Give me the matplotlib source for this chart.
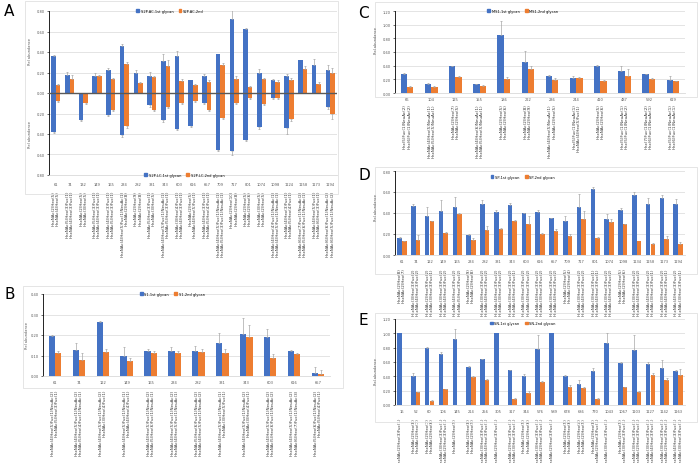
import matplotlib
matplotlib.use("Agg")
import matplotlib.pyplot as plt
import matplotlib.transforms as mtransforms
from matplotlib.patches import Rectangle, Patch
import numpy as np

# ---- data ----
# panel A (S2P, AC on top, LC mirrored below)
a_cats = ["61", "74", "132", "149", "165", "234", "282", "331", "343", "603", "616",
          "657", "709", "717", "801", "1074", "1098", "1124", "1158", "1173", "1194"]
a_ac1 = [0.36, 0.175, 0.0, 0.17, 0.225, 0.46, 0.20, 0.165, 0.31, 0.36, 0.125,
         0.165, 0.38, 0.72, 0.625, 0.20, 0.13, 0.165, 0.32, 0.275, 0.22]
a_ac1_err = [0.01, 0.03, 0.0, 0.03, 0.02, 0.02, 0.02, 0.04, 0.07, 0.05, 0.0,
             0.02, 0.0, 0.19, 0.01, 0.03, 0.01, 0.02, 0.0, 0.06, 0.05]
a_ac2 = [0.08, 0.14, 0.0, 0.165, 0.14, 0.28, 0.10, 0.155, 0.26, 0.12, 0.08,
         0.11, 0.27, 0.14, 0.055, 0.14, 0.105, 0.13, 0.235, 0.085, 0.195]
a_ac2_err = [0.01, 0.04, 0.0, 0.01, 0.01, 0.02, 0.01, 0.01, 0.06, 0.02, 0.01,
             0.02, 0.02, 0.03, 0.01, 0.01, 0.02, 0.02, 0.03, 0.02, 0.05]
a_lc1 = [0.38, 0.0, 0.26, 0.0, 0.21, 0.41, 0.0, 0.12, 0.26, 0.35, 0.32,
         0.10, 0.555, 0.565, 0.46, 0.335, 0.045, 0.34, 0.0, 0.0, 0.135]
a_lc1_err = [0.01, 0.0, 0.01, 0.0, 0.01, 0.02, 0.0, 0.02, 0.02, 0.01, 0.01,
             0.01, 0.01, 0.04, 0.01, 0.02, 0.01, 0.06, 0.0, 0.0, 0.02]
a_lc2 = [0.08, 0.0, 0.10, 0.0, 0.165, 0.32, 0.0, 0.17, 0.14, 0.10, 0.08,
         0.165, 0.24, 0.10, 0.05, 0.11, 0.045, 0.25, 0.0, 0.0, 0.205]
a_lc2_err = [0.01, 0.0, 0.01, 0.0, 0.01, 0.02, 0.0, 0.01, 0.01, 0.01, 0.01,
             0.01, 0.01, 0.01, 0.01, 0.01, 0.01, 0.02, 0.0, 0.0, 0.05]
a_gly = [
    ("HexNAc(2)Hex(5)", "HexNAc(4)Hex(5)"),
    ("HexNAc(5)Hex(3)Fuc(1)", "HexNAc(4)Hex(3)Fuc(1)"),
    ("HexNAc(2)Hex(5)", "HexNAc(3)Hex(5)"),
    ("HexNAc(5)Hex(3)Fuc(1)", "HexNAc(4)Hex(3)Fuc(1)"),
    ("HexNAc(4)Hex(3)Fuc(1)", "HexNAc(5)Hex(3)Fuc(1)"),
    ("HexNAc(4)Hex(5)Fuc(1)NeuAc(1)", "HexNAc(2)Hex(8)"),
    ("HexNAc(2)Hex(9)", "HexNAc(2)Hex(8)"),
    ("HexNAc(5)Hex(3)Fuc(1)", "HexNAc(3)Hex(5)"),
    ("HexNAc(4)Hex(5)Fuc(1)NeuAc(1)", "HexNAc(5)Hex(3)Fuc(1)"),
    ("HexNAc(3)Hex(4)Fuc(1)", "HexNAc(4)Hex(3)Fuc(1)"),
    ("HexNAc(2)Hex(5)", "HexNAc(4)Hex(5)Fuc(1)"),
    ("HexNAc(4)Hex(3)Fuc(1)", "HexNAc(5)Hex(4)Fuc(1)"),
    ("HexNAc(4)Hex(5)Fuc(1)NeuAc(1)", "HexNAc(5)Hex(3)Fuc(1)NeuAc(1)"),
    ("HexNAc(2)Hex(10)", "HexNAc(2)Hex(8)"),
    ("HexNAc(2)Hex(5)", "HexNAc(2)Hex(6)"),
    ("HexNAc(3)Hex(5)", "HexNAc(2)Hex(5)"),
    ("HexNAc(4)Hex(4)Fuc(1)NeuAc(1)", "HexNAc(4)Hex(5)Fuc(1)NeuAc(1)"),
    ("HexNAc(4)Hex(3)Fuc(1)", "HexNAc(5)Hex(4)Fuc(1)"),
    ("HexNAc(6)Hex(7)Fuc(1)NeuAc(2)", "HexNAc(5)Hex(6)Fuc(1)NeuAc(1)"),
    ("HexNAc(4)Hex(5)Fuc(1)", "HexNAc(6)Hex(3)Fuc(1)"),
    ("HexNAc(6)Hex(6)Fuc(1)NeuAc(2)", "HexNAc(6)Hex(5)Fuc(1)NeuAc(2)"),
]

# panel B (S1)
b_cats = ["61", "74", "122", "149", "165", "234", "282", "331", "343", "603", "616", "657"]
b_1st = [0.195, 0.125, 0.265, 0.10, 0.12, 0.12, 0.123, 0.163, 0.203, 0.19, 0.12, 0.016]
b_1st_err = [0.005, 0.035, 0.005, 0.04, 0.01, 0.02, 0.025, 0.045, 0.08, 0.04, 0.005, 0.03]
b_2nd = [0.11, 0.078, 0.118, 0.071, 0.112, 0.113, 0.118, 0.11, 0.19, 0.086, 0.108, 0.011]
b_2nd_err = [0.01, 0.035, 0.015, 0.015, 0.01, 0.01, 0.015, 0.02, 0.06, 0.02, 0.005, 0.02]
b_gly = [
    ("HexNAc(4)Hex(5)Fuc(1)NeuAc(2)", "HexNAc(5)Hex(3)Fuc(1)"),
    ("HexNAc(4)Hex(5)Fuc(1)NeuAc(2)", "HexNAc(5)Hex(4)Fuc(1)NeuAc(1)"),
    ("HexNAc(4)Hex(5)Fuc(1)NeuAc(2)", "HexNAc(3)Hex(4)Fuc(1)"),
    ("HexNAc(4)Hex(5)Fuc(1)NeuAc(1)", "HexNAc(4)Hex(4)Fuc(1)"),
    ("HexNAc(4)Hex(5)Fuc(1)NeuAc(2)", "HexNAc(5)Hex(6)Fuc(1)NeuAc(1)"),
    ("HexNAc(4)Hex(5)Fuc(1)NeuAc(2)", "HexNAc(4)Hex(5)Fuc(1)NeuAc(1)"),
    ("HexNAc(5)Hex(6)Fuc(1)NeuAc(2)", "HexNAc(4)Hex(5)Fuc(1)NeuAc(2)"),
    ("HexNAc(4)Hex(5)Fuc(1)NeuAc(1)", "HexNAc(3)Hex(5)Fuc(1)"),
    ("HexNAc(4)Hex(5)Fuc(1)NeuAc(2)", "HexNAc(3)Hex(4)Fuc(1)"),
    ("HexNAc(4)Hex(5)Fuc(1)NeuAc(2)", "HexNAc(5)Hex(6)Fuc(1)NeuAc(2)"),
    ("HexNAc(4)Hex(5)Fuc(1)NeuAc(2)", "HexNAc(6)Hex(7)Fuc(1)NeuAc(3)"),
    ("HexNAc(5)Hex(6)Fuc(1)NeuAc(2)", "HexNAc(5)Hex(4)Fuc(1)"),
]

# panel C (MS1)
c_cats = ["66", "104", "125", "155", "186", "222", "236", "244", "410", "487", "592", "619"]
c_1st = [0.28, 0.135, 0.39, 0.13, 0.85, 0.45, 0.255, 0.225, 0.40, 0.325, 0.275, 0.185]
c_1st_err = [0.01, 0.01, 0.005, 0.005, 0.21, 0.16, 0.005, 0.02, 0.01, 0.07, 0.01, 0.06]
c_2nd = [0.09, 0.09, 0.24, 0.105, 0.20, 0.35, 0.195, 0.22, 0.18, 0.25, 0.21, 0.17]
c_2nd_err = [0.01, 0.01, 0.005, 0.005, 0.03, 0.04, 0.02, 0.01, 0.01, 0.10, 0.01, 0.01]
c_gly = [
    ("Hex(5)Fuc(1)NeuAc(2)", "Hex(6)Fuc(1)NeuAc(2)"),
    ("HexNAc(4)Hex(5)NeuAc(1)", "HexNAc(5)Hex(5)NeuAc(1)"),
    ("HexNAc(2)Hex(7)", "HexNAc(2)Hex(5)"),
    ("HexNAc(4)Hex(6)NeuAc(1)", "HexNAc(5)Hex(5)NeuAc(1)"),
    ("HexNAc(2)Hex(5)", "HexNAc(2)Hex(6)"),
    ("HexNAc(2)Hex(8)", "HexNAc(2)Hex(9)"),
    ("HexNAc(4)Hex(5)NeuAc(1)", "HexNAc(2)Hex(5)"),
    ("Hex(5)Fuc(1)NeuAc(1)", "HexNAc(4)Hex(5)Fuc(1)"),
    ("HexNAc(2)Hex(5)", "HexNAc(2)Hex(6)"),
    ("Hex(5)Fuc(1)NeuAc(1)", "Hex(5)Fuc(1)NeuAc(2)"),
    ("Hex(7)Fuc(1)NeuAc(2)", "Hex(6)Fuc(1)NeuAc(1)"),
    ("Hex(5)Fuc(1)NeuAc(1)", "Hex(6)Fuc(1)NeuAc(1)"),
]

# panel D (SP)
d_cats = ["61", "74", "122", "149", "165", "234", "282", "331", "343", "603", "616",
          "657", "709", "717", "801", "1074", "1098", "1134", "1158", "1173", "1194"]
d_1st = [0.16, 0.47, 0.375, 0.42, 0.457, 0.194, 0.49, 0.41, 0.476, 0.397, 0.413,
         0.352, 0.327, 0.46, 0.632, 0.34, 0.428, 0.571, 0.486, 0.546, 0.486]
d_1st_err = [0.01, 0.02, 0.08, 0.10, 0.10, 0.01, 0.03, 0.02, 0.02, 0.005, 0.02,
             0.005, 0.04, 0.12, 0.02, 0.05, 0.02, 0.03, 0.06, 0.03, 0.05]
d_2nd = [0.133, 0.146, 0.323, 0.213, 0.39, 0.146, 0.235, 0.245, 0.324, 0.298, 0.20,
         0.225, 0.178, 0.346, 0.159, 0.314, 0.292, 0.137, 0.108, 0.149, 0.108]
d_2nd_err = [0.005, 0.04, 0.005, 0.01, 0.01, 0.015, 0.04, 0.01, 0.005, 0.07, 0.01,
             0.02, 0.02, 0.07, 0.01, 0.03, 0.005, 0.0, 0.01, 0.03, 0.02]
d_gly = [
    ("HexNAc(2)Hex(8)", "HexNAc(2)Hex(7)"),
    ("HexNAc(3)Hex(3)Fuc(2)", "HexNAc(4)Hex(3)Fuc(2)"),
    ("HexNAc(2)Hex(9)Fuc(2)", "HexNAc(3)Hex(3)Fuc(1)"),
    ("HexNAc(3)Hex(3)Fuc(2)", "HexNAc(4)Hex(3)Fuc(2)"),
    ("HexNAc(4)Hex(3)Fuc(2)", "HexNAc(5)Hex(3)Fuc(2)"),
    ("HexNAc(2)Hex(9)", "HexNAc(2)Hex(8)"),
    ("HexNAc(3)Hex(3)Fuc(2)", "HexNAc(4)Hex(3)Fuc(2)"),
    ("HexNAc(4)Hex(3)Fuc(2)", "HexNAc(3)Hex(3)Fuc(2)"),
    ("HexNAc(3)Hex(3)Fuc(2)", "HexNAc(4)Hex(3)Fuc(1)"),
    ("HexNAc(3)Hex(3)Fuc(2)", "HexNAc(4)Hex(3)Fuc(2)"),
    ("HexNAc(4)Hex(3)Fuc(2)", "HexNAc(3)Hex(3)Fuc(2)"),
    ("HexNAc(3)Hex(3)Fuc(2)", "HexNAc(4)Hex(3)Fuc(2)"),
    ("HexNAc(2)Hex(5)", "HexNAc(2)Hex(4)"),
    ("HexNAc(3)Hex(3)Fuc(2)", "HexNAc(4)Hex(3)Fuc(2)"),
    ("HexNAc(3)Hex(3)Fuc(1)", "HexNAc(4)Hex(3)Fuc(1)"),
    ("HexNAc(3)Hex(3)Fuc(2)", "HexNAc(4)Hex(3)Fuc(2)"),
    ("HexNAc(2)Hex(5)", "HexNAc(2)Hex(6)"),
    ("HexNAc(3)Hex(3)Fuc(2)", "HexNAc(4)Hex(3)Fuc(2)"),
    ("HexNAc(4)Hex(3)Fuc(2)", "HexNAc(3)Hex(3)Fuc(1)"),
    ("HexNAc(3)Hex(3)Fuc(2)", "HexNAc(4)Hex(3)Fuc(1)"),
    ("HexNAc(4)Hex(3)Fuc(2)", "HexNAc(3)Hex(3)Fuc(1)"),
]

# panel E (SN)
e_cats = ["16", "52", "60", "106", "145", "214", "256", "305", "317", "344", "576",
          "589", "678", "686", "770", "1043", "1067", "1103", "1127", "1142", "1163"]
e_1st = [1.0, 0.41, 0.795, 0.71, 0.925, 0.53, 0.637, 1.0, 0.484, 0.405, 0.78,
         1.0, 0.40, 0.288, 0.47, 0.86, 0.586, 0.767, 0.577, 0.516, 0.47]
e_1st_err = [0.0, 0.04, 0.02, 0.03, 0.13, 0.02, 0.01, 0.0, 0.01, 0.03, 0.19,
             0.0, 0.02, 0.06, 0.05, 0.14, 0.01, 0.21, 0.02, 0.11, 0.02]
e_2nd = [0.0, 0.177, 0.06, 0.223, 0.0, 0.395, 0.349, 0.0, 0.084, 0.172, 0.32,
         0.0, 0.25, 0.237, 0.08, 0.0, 0.246, 0.186, 0.423, 0.344, 0.423]
e_2nd_err = [0.0, 0.01, 0.005, 0.005, 0.0, 0.01, 0.02, 0.0, 0.01, 0.02, 0.02,
             0.0, 0.03, 0.01, 0.02, 0.0, 0.01, 0.01, 0.02, 0.03, 0.08]
e_gly = [
    ("HexNAc(2)Hex(3)Fuc(1)", ""),
    ("HexNAc(2)Hex(8)", "HexNAc(2)Hex(7)"),
    ("HexNAc(2)Hex(7)", "HexNAc(2)Hex(6)"),
    ("HexNAc(3)Hex(3)Fuc(1)", "HexNAc(2)Hex(3)Fuc(1)"),
    ("HexNAc(2)Hex(9)", ""),
    ("HexNAc(2)Hex(8)", "HexNAc(2)Hex(9)"),
    ("HexNAc(3)Hex(3)Fuc(1)", "HexNAc(4)Hex(3)Fuc(1)"),
    ("HexNAc(2)Hex(3)Fuc(1)", ""),
    ("HexNAc(2)Hex(3)Fuc(1)", "HexNAc(3)Hex(3)Fuc(1)"),
    ("HexNAc(2)Hex(5)", "HexNAc(2)Hex(6)"),
    ("HexNAc(3)Hex(3)Fuc(1)", "HexNAc(2)Hex(3)Fuc(1)"),
    ("HexNAc(2)Hex(3)Fuc(1)", ""),
    ("HexNAc(2)Hex(5)", "HexNAc(2)Hex(6)"),
    ("HexNAc(2)Hex(4)", "HexNAc(2)Hex(5)"),
    ("HexNAc(2)Hex(8)", "HexNAc(2)Hex(3)Fuc(1)"),
    ("HexNAc(3)Hex(3)Fuc(1)", ""),
    ("HexNAc(2)Hex(5)", "HexNAc(3)Hex(3)Fuc(1)"),
    ("HexNAc(3)Hex(3)Fuc(1)", "HexNAc(2)Hex(3)Fuc(1)"),
    ("HexNAc(3)Hex(3)Fuc(1)", "HexNAc(4)Hex(3)Fuc(1)"),
    ("HexNAc(3)Hex(3)Fuc(1)", "HexNAc(2)Hex(3)Fuc(1)"),
    ("HexNAc(4)Hex(3)Fuc(1)", "HexNAc(3)Hex(3)Fuc(1)"),
]

# ---- style ----
W, H = 698, 464
BLUE = "#4472C4"
ORANGE = "#ED7D31"
GRID = "#d9d9d9"
TXT = "#595959"
FS = 2.6
GFS = 2.9

fig = plt.figure(figsize=(W / 100, H / 100), dpi=100)
fig.patch.set_facecolor("white")


def px_axes(x0, y0, x1, y1):
    return fig.add_axes([x0 / W, 1 - y1 / H, (x1 - x0) / W, (y1 - y0) / H])


def box(x0, y0, x1, y1):
    fig.patches.append(Rectangle((x0 / W, 1 - y1 / H), (x1 - x0) / W, (y1 - y0) / H,
                                 transform=fig.transFigure, fill=False,
                                 ec="#e0e0e0", lw=0.6))


def bars(ax, vals, errs, offset, width, color, sign=1):
    x = np.arange(len(vals)) + offset
    v = sign * np.array(vals)
    ax.bar(x, v, width, color=color, zorder=3)
    e = np.array(errs)
    keep = e > 0
    z = np.zeros(keep.sum())
    yerr = [z, e[keep]] if sign > 0 else [e[keep], z]
    ax.errorbar(x[keep], v[keep], yerr=yerr, fmt="none", ecolor="#a6a6a6",
                elinewidth=0.5, capsize=0.8, capthick=0.5, zorder=4)


def style(ax, cats, gly, ticks, num_pad, gly_pad, fmt=lambda v: f"{v:.2f}"):
    n = len(cats)
    ax.set_xlim(-0.5, n - 0.5)
    ax.set_ylim(ticks[0], ticks[-1])
    ax.set_yticks(ticks)
    ax.set_yticklabels([fmt(t) for t in ticks], fontsize=FS, color=TXT)
    ax.set_xticks(range(n))
    ax.set_xticklabels(cats, fontsize=FS, color=TXT)
    ax.tick_params(axis="x", length=0, pad=num_pad)
    ax.tick_params(axis="y", length=1.5, width=0.4, pad=1.5)
    ax.grid(axis="y", color=GRID, lw=0.5, zorder=0)
    ax.set_axisbelow(True)
    for s in ["top", "right"]:
        ax.spines[s].set_visible(False)
    ax.spines["left"].set_linewidth(0.6)
    ax.spines["bottom"].set_color(GRID)
    ax.spines["bottom"].set_linewidth(0.6)
    trans = mtransforms.offset_copy(ax.get_xaxis_transform(), fig=fig,
                                    x=0, y=-gly_pad, units="dots")
    for i, (g1, g2) in enumerate(gly):
        ax.text(i, 0, g1 + "\n" + g2, rotation=90, ha="center", va="top",
                multialignment="right", fontsize=GFS, color="#333333",
                transform=trans, linespacing=1.05)


def legend(ax, labels, x, y):
    handles = [Patch(color=BLUE), Patch(color=ORANGE)]
    ax.legend(handles, labels, loc="center", bbox_to_anchor=(x, y), ncol=2,
              frameon=False, fontsize=FS, handlelength=0.8, handleheight=0.8,
              handletextpad=0.4, columnspacing=1.5, borderpad=0)


# ---- panel A ----
box(25, 2, 338, 195)
axA = px_axes(49, 12, 337, 176)
bars(axA, a_ac1, a_ac1_err, -0.17, 0.33, BLUE)
bars(axA, a_ac2, a_ac2_err, 0.17, 0.33, ORANGE)
bars(axA, a_lc1, a_lc1_err, -0.17, 0.33, BLUE, sign=-1)
bars(axA, a_lc2, a_lc2_err, 0.17, 0.33, ORANGE, sign=-1)
a_ticks = np.round(np.arange(-0.8, 0.81, 0.2), 2)
style(axA, a_cats, a_gly, a_ticks, 5, 15, fmt=lambda v: f"{abs(v):.2f}")
axA.axhline(0, color="#595959", lw=1.0, zorder=5)
legend(axA, ["S2P-AC-1st glycan", "S2P-AC-2nd"], 0.42, 1.0)
axA2 = axA.twinx()
axA2.set_axis_off()
legend(axA2, ["S2P-LC-1st glycan", "S2P-LC-2nd glycan"], 0.47, 0.0)
fig.text(30 / W, 1 - 52 / H, "Rel abundance", rotation=90, fontsize=FS,
         color=TXT, ha="center", va="center")
fig.text(30 / W, 1 - 135 / H, "Rel abundance", rotation=90, fontsize=FS,
         color=TXT, ha="center", va="center")
fig.text(4 / W, 1 - 4 / H, "A", fontsize=11, ha="left", va="top")

# ---- panel B ----
box(23, 287, 343, 389)
axB = px_axes(43, 295, 330, 377)
bars(axB, b_1st, b_1st_err, -0.13, 0.26, BLUE)
bars(axB, b_2nd, b_2nd_err, 0.13, 0.26, ORANGE)
style(axB, b_cats, b_gly, np.round(np.arange(0, 0.41, 0.1), 2), 3, 13)
legend(axB, ["S1-1st glycan", "S1-2nd glycan"], 0.45, 1.0)
fig.text(27 / W, 1 - 336 / H, "Rel abundance", rotation=90, fontsize=FS,
         color=TXT, ha="center", va="center")
fig.text(4 / W, 1 - 287 / H, "B", fontsize=11, ha="left", va="top")

# ---- panel C ----
box(375, 3, 697, 98)
axC = px_axes(395, 12, 685, 94)
bars(axC, c_1st, c_1st_err, -0.13, 0.26, BLUE)
bars(axC, c_2nd, c_2nd_err, 0.13, 0.26, ORANGE)
style(axC, c_cats, c_gly, np.round(np.arange(0, 1.21, 0.2), 2), 3, 10)
legend(axC, ["MS1-1st glycan", "MS1-2nd glycan"], 0.44, 1.0)
fig.text(376 / W, 1 - 40 / H, "Rel abundance", rotation=90, fontsize=FS,
         color=TXT, ha="center", va="center")
fig.text(358 / W, 1 - 6 / H, "C", fontsize=11, ha="left", va="top")

# ---- panel D ----
box(375, 168, 697, 275)
axD = px_axes(395, 172, 685, 256)
bars(axD, d_1st, d_1st_err, -0.17, 0.33, BLUE)
bars(axD, d_2nd, d_2nd_err, 0.17, 0.33, ORANGE)
style(axD, d_cats, d_gly, np.round(np.arange(0, 0.81, 0.2), 2), 3, 12)
legend(axD, ["SP-1st glycan", "SP-2nd glycan"], 0.44, 0.93)
fig.text(376 / W, 1 - 208 / H, "Rel abundance", rotation=90, fontsize=FS,
         color=TXT, ha="center", va="center")
fig.text(358 / W, 1 - 168 / H, "D", fontsize=11, ha="left", va="top")

# ---- panel E ----
box(375, 314, 697, 423)
axE = px_axes(395, 320, 685, 406)
bars(axE, e_1st, e_1st_err, -0.17, 0.33, BLUE)
bars(axE, e_2nd, e_2nd_err, 0.17, 0.33, ORANGE)
style(axE, e_cats, e_gly, np.round(np.arange(0, 1.21, 0.2), 2), 3, 12)
legend(axE, ["SN-1st glycan", "SN-2nd glycan"], 0.44, 0.95)
fig.text(376 / W, 1 - 372 / H, "Rel abundance", rotation=90, fontsize=FS,
         color=TXT, ha="center", va="center")
fig.text(358 / W, 1 - 313 / H, "E", fontsize=11, ha="left", va="top")

fig.savefig("out.png", dpi=100, facecolor="white")
